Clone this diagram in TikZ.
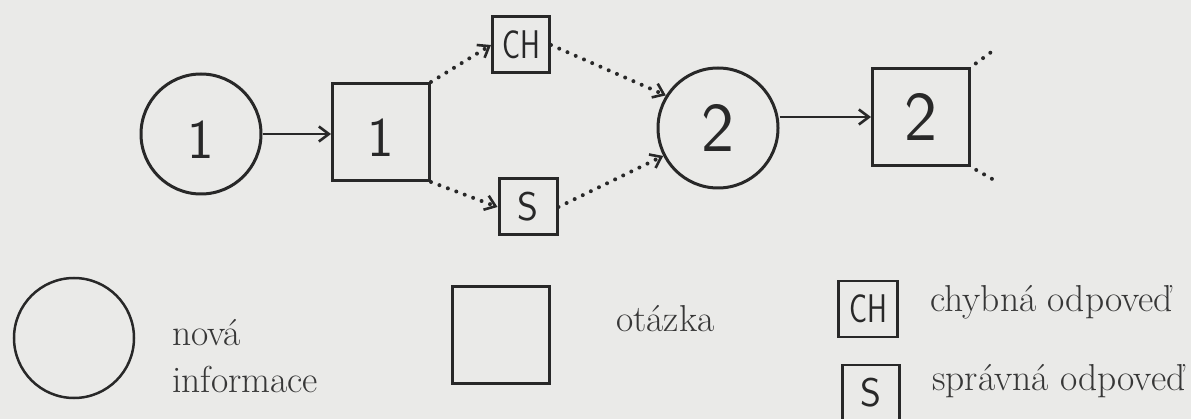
\documentclass[tikz,border=0pt]{standalone}
\usepackage{fontspec}
\usetikzlibrary{arrows.meta}
\definecolor{bg}{RGB}{234,234,232}
\definecolor{ink}{RGB}{40,40,40}
\definecolor{txt}{RGB}{55,55,55}
\newcommand{\lowdigit}[1]{\raisebox{-6pt}[\height][0pt]{#1}}
\tikzset{
  figshape/.style={draw=ink, line width=3pt, inner sep=0pt, font=\sffamily, text=ink},
  infocirc/.style={figshape, circle, minimum size=120pt},
  qbox/.style={figshape, rectangle, minimum size=97pt},
  ansbox/.style={figshape, rectangle, minimum width=57pt, minimum height=56pt},
  legline/.style={line width=2.5pt},
  arr/.style={draw=ink, line width=2.6pt, -{Straight Barb[length=10pt,width=15pt,line width=2.6pt]}},
  dotarr/.style={draw=ink, line width=4pt, line cap=round, dash pattern=on 0pt off 9pt,
     -{Straight Barb[length=10pt,width=15pt,line width=2.6pt]}},
  dotline/.style={draw=ink, line width=4pt, line cap=round, dash pattern=on 0pt off 9pt},
  legtext/.style={anchor=base west, inner sep=0pt, text=txt, font=\fontsize{37.5}{42}\selectfont},
  digitA/.style={font=\fontsize{56}{60}\sffamily\selectfont},
  digitB/.style={font=\fontsize{70}{74}\sffamily\selectfont},
  letters/.style={font=\fontsize{40}{44}\sffamily\selectfont},
}
\begin{document}
\begin{tikzpicture}[x=1pt,y=-1pt]
\path[use as bounding box, fill=bg] (0,0) rectangle (1191,419);
% diagram
\node[infocirc, digitA] (c1) at (201,134) {\lowdigit{1}};
\node[qbox, digitA] (b1) at (381,132) {\lowdigit{1}};
\node[ansbox, letters] (ch) at (521,45) {\scalebox{0.75}[1]{CH}};
\node[ansbox, letters, minimum width=58pt] (s) at (528,207) {S};
\node[infocirc, digitB] (c2) at (718,128) {2};
\node[qbox, digitB] (b2) at (921,117) {2};
\coordinate (stubA) at (994,50);
\coordinate (stubB) at (994,180);
\draw[arr] (c1.east) -- (c1.east -| b1.west);
\draw[dotarr] (b1.north east) -- (ch.west);
\draw[dotarr] (b1.south east) -- (s.west);
\draw[dotarr] (ch.east) -- (c2.148);
\draw[dotarr] (s.east) -- (c2.207);
\draw[arr] (c2.east |- b2.west) -- (b2.west);
\draw[dotline, shorten <=6pt] (b2.north east) -- (stubA);
\draw[dotline, shorten <=6pt] (b2.south east) -- (stubB);
% legend
\node[infocirc, legline] (lc) at (74,338) {};
\node[legtext] (lt1) at (172,345) {nová};
\node[legtext] (lt2) at (172,392) {informace};
\node[qbox, legline] (lq) at (501,335) {};
\node[legtext] (lt3) at (616,332) {otázka};
\node[ansbox, legline, letters, minimum width=59pt] (lch) at (868,309) {\scalebox{0.75}[1]{CH}};
\node[legtext] (lt4) at (930,312) {chybná odpoveď};
\node[ansbox, legline, letters] (ls) at (871,393) {S};
\node[legtext] (lt5) at (932,390) {správná odpoveď};
\end{tikzpicture}
\end{document}
